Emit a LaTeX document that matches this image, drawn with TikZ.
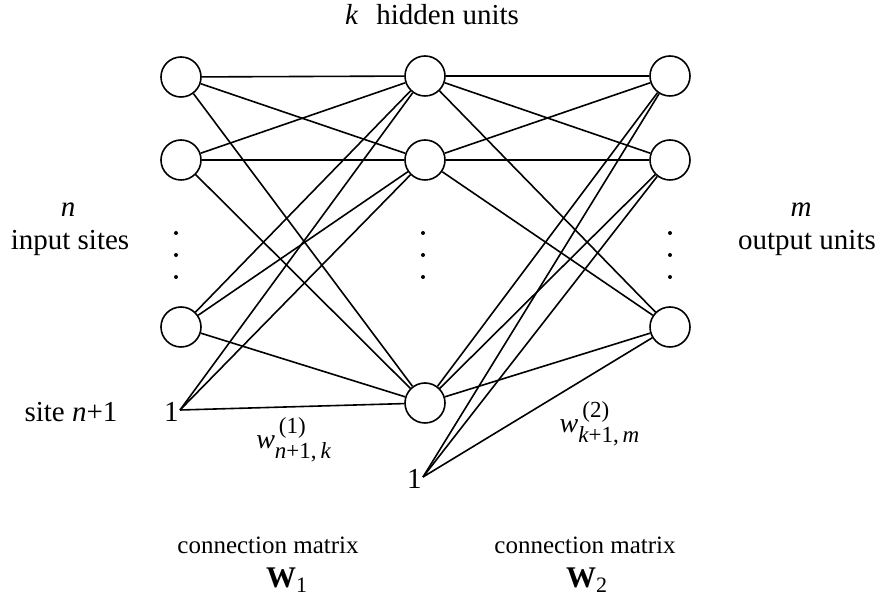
\documentclass[tikz,border=0pt]{standalone}
\usepackage{amsmath}
\usepackage{fontspec}
\setmainfont{Liberation Serif}
\DeclareMathSizes{14}{14}{11.5}{9}
\DeclareMathSizes{15}{15}{11}{9}
\begin{document}
\begin{tikzpicture}[x=0.5pt,y=-0.5pt,
  unit/.style={circle,draw,line width=0.8pt,minimum size=20pt,inner sep=0pt,fill=white},
  conn/.style={line width=0.8pt},
  lbl/.style={font=\fontsize{14.5}{17}\selectfont,inner sep=0pt},
  cmlbl/.style={font=\fontsize{12.5}{15}\selectfont,inner sep=0pt},
  wlbl/.style={font=\fontsize{14}{17}\selectfont,inner sep=0pt},
  Wlbl/.style={font=\fontsize{15}{18}\selectfont,inner sep=0pt},
  dotc/.style={circle,fill=black,inner sep=0pt,minimum size=2pt}]
\useasboundingbox (0,0) rectangle (895,603);
% bias points
\coordinate (b1) at (180,410);
\coordinate (b2) at (423,477);
\node[lbl,anchor=east] (one1) at ([xshift=-0.5pt,yshift=-1pt]b1) {1};
\node[lbl,anchor=east] (one2) at ([xshift=-0.5pt,yshift=-1pt]b2) {1};
% units
\node[unit] (i1) at (181,77) {};
\node[unit] (i2) at (181,160) {};
\node[unit] (i3) at (181,327) {};
\node[unit] (h1) at (425,76) {};
\node[unit] (h2) at (425,160) {};
\node[unit] (h3) at (425,403) {};
\node[unit] (o1) at (670,76) {};
\node[unit] (o2) at (670,160) {};
\node[unit] (o3) at (670,327) {};
% connections
\foreach \a in {i1,i2,i3}
  \foreach \b in {h1,h2,h3}
    \draw[conn] (\a) -- (\b);
\foreach \b in {h1,h2,h3}
  \draw[conn] (b1) -- (\b);
\foreach \a in {h1,h2,h3}
  \foreach \b in {o1,o2,o3}
    \draw[conn] (\a) -- (\b);
\foreach \b in {o1,o2,o3}
  \draw[conn] (b2) -- (\b);
% dots
\foreach \x/\n in {176/a,423/b,670/c}
  \foreach \y/\m in {233/1,255/2,277/3}
    \node[dotc] (d\n\m) at (\x,\y) {};
% labels
\node[lbl] (title) at (432,15) {\textit{k}\hspace{9pt}hidden units};
\node[lbl] (nlab) at (68,210) {\textit{n}};
\node[lbl] (inlab) at (70,243) {input sites};
\node[lbl] (mlab) at (801,210) {\textit{m}};
\node[lbl] (outlab) at (807,243) {output units};
\node[lbl] (site) at (71,412) {site \textit{n}+1};
\node[wlbl] (w1) at (294,440) {$\text{\itshape w}^{\,\text{(1)}}_{\text{\itshape n}\text{+1,\,}\text{\itshape k}}$};
\node[wlbl] (w2) at (600,424) {$\text{\itshape w}^{\,\text{(2)}}_{\text{\itshape k}\text{+1,\,}\text{\itshape m}}$};
\node[cmlbl] (cm1) at (268,545) {connection matrix};
\node[Wlbl] (W1) at (287,580) {\textbf{W}$_{\text{1}}$};
\node[cmlbl] (cm2) at (585,545) {connection matrix};
\node[Wlbl] (W2) at (587,580) {\textbf{W}$_{\text{2}}$};
\end{tikzpicture}
\end{document}
